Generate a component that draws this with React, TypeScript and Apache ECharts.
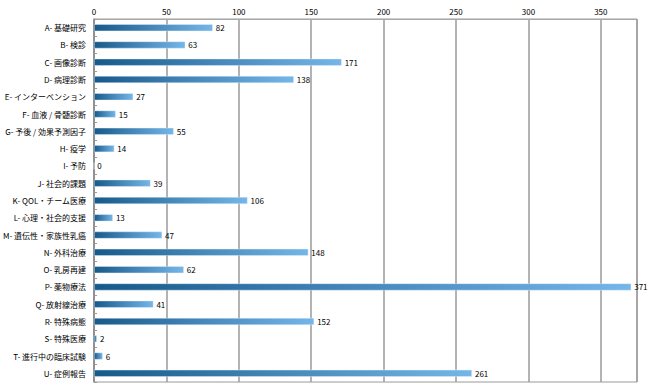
import React, { useEffect, useRef } from "react";
import * as echarts from "echarts";

const categories = [
  "A- 基礎研究",
  "B- 検診",
  "C- 画像診断",
  "D- 病理診断",
  "E- インターベンション",
  "F- 血液 / 骨髄診断",
  "G- 予後 / 効果予測因子",
  "H- 疫学",
  "I- 予防",
  "J- 社会的課題",
  "K- QOL・チーム医療",
  "L- 心理・社会的支援",
  "M- 遺伝性・家族性乳癌",
  "N- 外科治療",
  "O- 乳房再建",
  "P- 薬物療法",
  "Q- 放射線治療",
  "R- 特殊病態",
  "S- 特殊医療",
  "T- 進行中の臨床試験",
  "U- 症例報告",
];

const values = [82, 63, 171, 138, 27, 15, 55, 14, 0, 39, 106, 13, 47, 148, 62, 371, 41, 152, 2, 6, 261];

const FONT = "'Noto Sans CJK JP', 'Noto Sans', sans-serif";

export default function App() {
  const ref = useRef<HTMLDivElement>(null);
  useEffect(() => {
    document.body.style.margin = "0";
    const chart = echarts.init(ref.current!, null, { renderer: "svg" });
    chart.setOption({
      animation: false,
      grid: {
        left: 90,
        right: 13,
        top: 19,
        bottom: 8,
        show: true,
        borderColor: "#9a9a9a",
        borderWidth: 1,
      },
      xAxis: {
        type: "value",
        position: "top",
        min: 0,
        max: 375,
        interval: 50,
        axisLine: { show: true, lineStyle: { color: "#a8a8a8", width: 1 } },
        axisTick: { show: false },
        axisLabel: {
          color: "#000",
          fontSize: 8,
          fontFamily: FONT,
          margin: 4,
          showMaxLabel: false,
        },
        splitLine: { show: true, lineStyle: { color: "#9a9a9a", width: 1.5 } },
      },
      yAxis: {
        type: "category",
        data: categories,
        inverse: true,
        axisLine: { show: true, lineStyle: { color: "#8a8a8a", width: 1.5 } },
        axisTick: { show: true, inside: true, length: 3, lineStyle: { color: "#9a9a9a" } },
        axisLabel: { color: "#000", fontSize: 8, fontFamily: FONT, margin: 8 },
        splitLine: { show: false },
      },
      series: [
        {
          type: "bar",
          data: values,
          barWidth: 7,
          itemStyle: {
            color: new echarts.graphic.LinearGradient(0, 0, 1, 0, [
              { offset: 0, color: "#175a8a" },
              { offset: 1, color: "#74b6e8" },
            ]),
            borderColor: "rgba(235,245,255,0.8)",
            borderWidth: 0.5,
          },
          label: {
            show: true,
            position: "right",
            distance: 3,
            color: "#000",
            fontSize: 8,
            fontFamily: FONT,
          },
        },
      ],
    });
    return () => chart.dispose();
  }, []);
  return <div ref={ref} style={{ width: 650, height: 390 }} />;
}
